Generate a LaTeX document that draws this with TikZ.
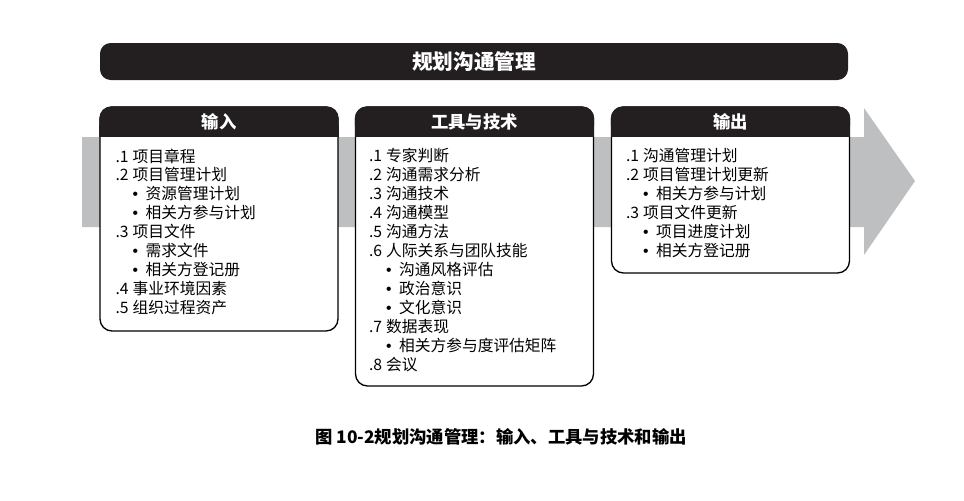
\documentclass[tikz,border=0pt]{standalone}
\usepackage{fontspec}
\setmainfont{Noto Sans CJK SC}
\newfontfamily\bulletfont{Liberation Sans}
\usepackage{tikz}
\usetikzlibrary{positioning}
\usetikzlibrary{calc}
\definecolor{hdrfill}{RGB}{35,31,32}
\definecolor{bandgray}{RGB}{190,191,193}
\newcommand{\listnum}[2]{\makebox[12.75pt][l]{#1}#2}
\newcommand{\listsub}[1]{\hspace*{12.75pt}\makebox[9.75pt][l]{\bulletfont\textbullet}#1}

\begin{document}
\begin{tikzpicture}[x=0.75pt, y=-0.75pt,
	panel/.style = {draw=black, line width=1pt, fill=white, rounded corners=9pt, inner sep=0pt, minimum width=178.5pt},
	hdtext/.style = {text=white, font=\bfseries\fontsize{13}{15}\selectfont, minimum height=22.5pt, inner sep=0pt},
	listtext/.style = {align=left, inner sep=0pt, font=\fontsize{11.8}{14.2}\selectfont}]
\useasboundingbox (0,0) rectangle (964,500);

% grey band behind the panels
\fill[bandgray] (82,137) -- (864,137) -- (864,108) -- (915,181) -- (864,255) -- (864,227) -- (82,227) -- cycle;

\node[fill=hdrfill, rounded corners=8pt, minimum width=561pt, minimum height=27.75pt, text=white, font=\bfseries\fontsize{15.5}{17}\selectfont] (title) at (474,61.5) {规划沟通管理};

\node[panel, minimum height=168pt] (inbox) at (219,219) {};
\node[panel, minimum height=209.25pt] (toolbox) at (474.5,246.5) {};
\node[panel, minimum height=124.5pt] (outbox) at (730.5,190) {};

\node[hdtext, anchor=north] (inhd) at (inbox.north) {};
\node[hdtext, anchor=north] (toolhd) at (toolbox.north) {};
\node[hdtext, anchor=north] (outhd) at (outbox.north) {};

\fill[hdrfill, rounded corners=9pt] (inbox.north west) rectangle (inbox.east |- inhd.south);
\fill[hdrfill] ($(inbox.west |- inhd.south)+(0,-12)$) rectangle (inbox.east |- inhd.south);
\fill[hdrfill, rounded corners=9pt] (toolbox.north west) rectangle (toolbox.east |- toolhd.south);
\fill[hdrfill] ($(toolbox.west |- toolhd.south)+(0,-12)$) rectangle (toolbox.east |- toolhd.south);
\fill[hdrfill, rounded corners=9pt] (outbox.north west) rectangle (outbox.east |- outhd.south);
\fill[hdrfill] ($(outbox.west |- outhd.south)+(0,-12)$) rectangle (outbox.east |- outhd.south);

\node[hdtext] at (inhd) {输入};
\node[hdtext] at (toolhd) {工具与技术};
\node[hdtext] at (outhd) {输出};

\node[listtext, anchor=north west] (inlist) at ($(inbox.north west)+(16,42)$) {
	\listnum{.1}{项目章程}\\
	\listnum{.2}{项目管理计划}\\
	\listsub{资源管理计划}\\
	\listsub{相关方参与计划}\\
	\listnum{.3}{项目文件}\\
	\listsub{需求文件}\\
	\listsub{相关方登记册}\\
	\listnum{.4}{事业环境因素}\\
	\listnum{.5}{组织过程资产}};

\node[listtext, anchor=north west] (toollist) at ($(toolbox.north west)+(14,42)$) {
	\listnum{.1}{专家判断}\\
	\listnum{.2}{沟通需求分析}\\
	\listnum{.3}{沟通技术}\\
	\listnum{.4}{沟通模型}\\
	\listnum{.5}{沟通方法}\\
	\listnum{.6}{人际关系与团队技能}\\
	\listsub{沟通风格评估}\\
	\listsub{政治意识}\\
	\listsub{文化意识}\\
	\listnum{.7}{数据表现}\\
	\listsub{相关方参与度评估矩阵}\\
	\listnum{.8}{会议}};

\node[listtext, anchor=north west] (outlist) at ($(outbox.north west)+(15,42)$) {
	\listnum{.1}{沟通管理计划}\\
	\listnum{.2}{项目管理计划更新}\\
	\listsub{相关方参与计划}\\
	\listnum{.3}{项目文件更新}\\
	\listsub{项目进度计划}\\
	\listsub{相关方登记册}};

\node[font=\bfseries\fontsize{13}{15}\selectfont] (caption) at (501,437) {图 10-2规划沟通管理：输入、工具与技术和输出};
\end{tikzpicture}
\end{document}
